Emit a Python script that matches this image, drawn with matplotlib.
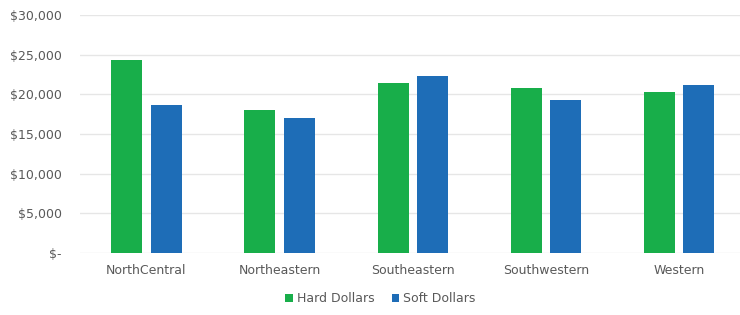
import matplotlib
matplotlib.use("Agg")
import matplotlib.pyplot as plt
import numpy as np
from matplotlib.ticker import FuncFormatter

# Values
regions = ["NorthCentral", "Northeastern", "Southeastern", "Southwestern", "Western"]
hard_dollars = [24400, 18050, 21500, 20850, 20300]
soft_dollars = [18700, 17000, 22350, 19300, 21200]
y_ticks = [0, 5000, 10000, 15000, 20000, 25000, 30000]

green = "#18AE4A"
blue = "#1E6DB7"
text_col = "#595959"

fig = plt.figure(figsize=(7.4, 3.15), dpi=100)
ax = fig.add_axes([0.108, 0.197, 0.892, 0.755])

x = np.arange(len(regions))
w = 0.233
off = 0.147
ax.bar(x - off, hard_dollars, w, color=green, label="Hard Dollars", zorder=3)
ax.bar(x + off, soft_dollars, w, color=blue, label="Soft Dollars", zorder=3)

def money(v, pos):
    if v == 0:
        return "$-"
    return "${:,.0f}".format(v)

ax.set_ylim(0, 30000)
ax.set_yticks(y_ticks)
ax.yaxis.set_major_formatter(FuncFormatter(money))
ax.set_xlim(-0.5, 4.46)
ax.set_xticks(x)
ax.set_xticklabels(regions)

ax.grid(axis="y", color="#E6E6E6", linewidth=1, zorder=0)
for s in ax.spines.values():
    s.set_visible(False)
ax.tick_params(axis="both", length=0, labelsize=9, labelcolor=text_col)
ax.tick_params(axis="x", pad=8)
ax.tick_params(axis="y", pad=13)

ax.legend(loc="upper center", bbox_to_anchor=(0.455, -0.118), ncol=2, frameon=False,
          fontsize=9, labelcolor=text_col, handlelength=0.6, handleheight=0.6,
          handletextpad=0.3, columnspacing=1.4)

fig.savefig("out.png", dpi=100)
